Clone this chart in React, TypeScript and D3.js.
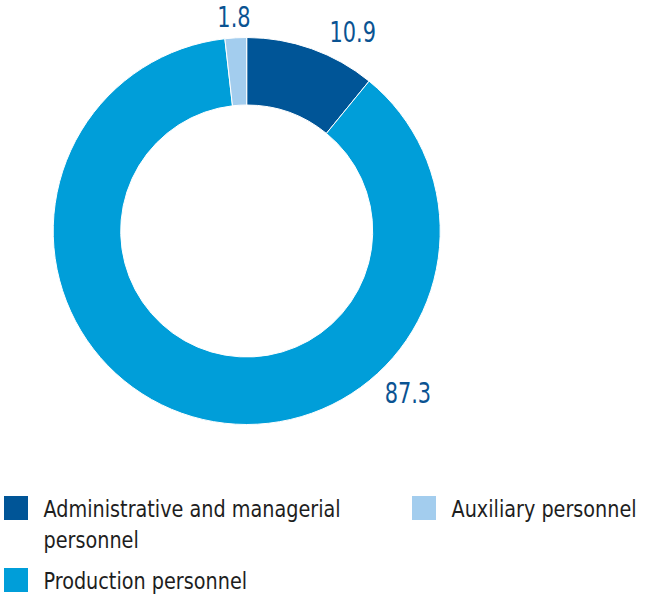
import * as d3 from "d3";
import { useEffect, useRef } from "react";

const categories = [
  "Administrative and managerial personnel",
  "Production personnel",
  "Auxiliary personnel",
];
const values = [10.9, 87.3, 1.8];
const valueLabels = ["10.9", "87.3", "1.8"];
const colors = ["#005597", "#009ed9", "#a3cdee"];

// where each value label sits around the ring (degrees clockwise from top)
const labelAngles = [28, 135, 356.6];
const labelRadii = [226, 228, 215];

const legendLines = [
  ["Administrative and managerial", "personnel"],
  ["Production personnel"],
  ["Auxiliary personnel"],
];

const FONT = "'DejaVu Sans Condensed', 'DejaVu Sans', sans-serif";

export default function App() {
  const svgRef = useRef<SVGSVGElement | null>(null);

  useEffect(() => {
    if (!svgRef.current) return;
    const svg = d3.select(svgRef.current);
    svg.selectAll("*").remove();

    const width = 646;
    const height = 599;
    svg.attr("width", width).attr("height", height);

    const cx = 246.7;
    const cy = 231;
    const outerR = 193.5;
    const innerR = 126;

    const pie = d3
      .pie<number>()
      .sort(null)
      .value((d) => d);
    const arcs = pie(values);

    const arc = d3
      .arc<d3.PieArcDatum<number>>()
      .innerRadius(innerR)
      .outerRadius(outerR);

    const g = svg.append("g").attr("transform", `translate(${cx},${cy})`);

    // slices
    g.selectAll("path")
      .data(arcs)
      .enter()
      .append("path")
      .attr("d", arc)
      .attr("fill", (_, i) => colors[i])
      .attr("stroke", "#fff")
      .attr("stroke-width", 1);

    // value labels (condensed by a horizontal squeeze)
    g.selectAll("text.val")
      .data(arcs)
      .enter()
      .append("text")
      .attr("class", "val")
      .attr("transform", (_, i) => {
        const a = (labelAngles[i] * Math.PI) / 180;
        const x = labelRadii[i] * Math.sin(a);
        const y = -labelRadii[i] * Math.cos(a);
        return `translate(${x},${y}) scale(0.8,1)`;
      })
      .attr("text-anchor", "middle")
      .attr("dy", "0.36em")
      .attr("font-family", FONT)
      .attr("font-size", 29)
      .attr("fill", "#0a5392")
      .text((_, i) => valueLabels[i]);

    // legend
    const legendPos = [
      { x: 4, y: 496 },
      { x: 4, y: 568 },
      { x: 412, y: 496 },
    ];
    const legend = svg
      .selectAll("g.legend")
      .data(categories)
      .enter()
      .append("g")
      .attr("class", "legend")
      .attr("transform", (_, i) => `translate(${legendPos[i].x},${legendPos[i].y})`);

    legend
      .append("rect")
      .attr("width", 24)
      .attr("height", 24)
      .attr("fill", (_, i) => colors[i]);

    legend.each(function (_, i) {
      const t = d3
        .select(this)
        .append("text")
        .attr("transform", "translate(39.5,20.5) scale(0.93,1)")
        .attr("font-family", FONT)
        .attr("font-size", 23)
        .attr("fill", "#1e1e1e");
      legendLines[i].forEach((line, j) => {
        t.append("tspan")
          .attr("x", 0)
          .attr("dy", j === 0 ? 0 : 31.5)
          .text(line);
      });
    });
  }, []);

  return (
    <svg
      ref={svgRef}
      style={{ position: "absolute", left: 0, top: 0, background: "#fff" }}
    ></svg>
  );
}
